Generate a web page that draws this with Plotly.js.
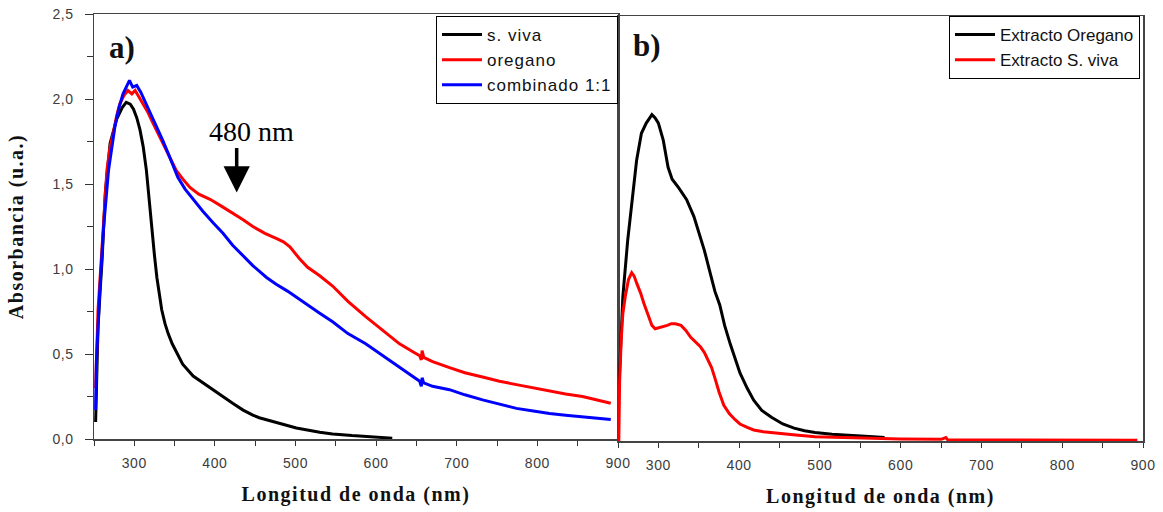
<!DOCTYPE html>
<html>
<head>
<meta charset="utf-8">
<script src="https://cdn.plot.ly/plotly-3.0.1.min.js"></script>
<style>
  html, body { margin: 0; padding: 0; background: #fff; }
  #chart { width: 1163px; height: 512px; }
  .xtitle, .x2title, .ytitle { letter-spacing: 1.5px; }
  .legendtext { letter-spacing: 1px; }
  .xtick text, .x2tick text, .ytick text { letter-spacing: 0.6px; }
</style>
</head>
<body>
<div id="chart"></div>
<script>
// ---- Panel a) data ----
const svivaX = [252,253,255,258,260,264,270,278,285,290,295,299,303,307,311,315,318,321,325,328,331,334,338,342,347,352,360,373,385,398,410,422,435,447,455,480,501,530,546,570,600,620];
const svivaY = [0.10,0.27,0.66,0.90,1.05,1.45,1.74,1.88,1.95,1.98,1.97,1.94,1.89,1.82,1.72,1.58,1.42,1.25,1.08,0.95,0.85,0.76,0.68,0.62,0.56,0.51,0.44,0.37,0.33,0.29,0.25,0.21,0.17,0.14,0.125,0.09,0.065,0.04,0.03,0.02,0.01,0.005];

const oreganoX = [252,253,255,258,260,263,266,270,274,278,282,287,292,297,301,306,311,317,323,330,338,345,352,360,369,380,394,408,422,435,447,462,476,485,493,500,505,515,530,546,565,587,608,629,645,654,656,657,659,670,691,710,732,753,774,795,815,835,856,875,891];
const oreganoY = [0.30,0.50,0.76,0.98,1.13,1.38,1.58,1.72,1.80,1.90,1.97,2.02,2.05,2.03,2.05,2.01,1.97,1.92,1.86,1.79,1.72,1.65,1.58,1.53,1.48,1.44,1.41,1.37,1.33,1.29,1.25,1.21,1.18,1.16,1.13,1.09,1.06,1.01,0.96,0.90,0.81,0.72,0.64,0.56,0.515,0.49,0.465,0.52,0.48,0.455,0.42,0.39,0.365,0.34,0.32,0.30,0.28,0.265,0.25,0.23,0.21];

const combinadoX = [252,253,257,262,268,272,276,281,286,290,294,298,303,308,313,320,328,335,342,348,354,363,373,385,398,410,422,435,447,464,476,490,505,518,530,546,565,587,608,629,645,654,656,657,659,670,691,710,732,753,774,795,815,835,856,875,891];
const combinadoY = [0.17,0.46,0.86,1.25,1.58,1.72,1.84,1.95,2.03,2.07,2.11,2.07,2.08,2.04,1.99,1.92,1.84,1.76,1.68,1.61,1.54,1.47,1.41,1.34,1.27,1.21,1.14,1.08,1.02,0.95,0.91,0.87,0.82,0.78,0.74,0.69,0.62,0.56,0.49,0.42,0.37,0.34,0.31,0.36,0.33,0.31,0.29,0.26,0.23,0.205,0.18,0.165,0.15,0.14,0.13,0.125,0.115];

// ---- Panel b) data ----
const extOreganoX = [251,253,256,262,269,273,279,285,292,296,300,306,312,317,325,335,344,352,357,364,370,376,382,389,395,401,410,418,428,440,454,468,481,494,515,539,566,580];
const extOreganoY = [0.30,0.55,0.85,1.18,1.48,1.65,1.81,1.87,1.92,1.90,1.87,1.77,1.61,1.54,1.49,1.42,1.32,1.20,1.12,0.99,0.88,0.80,0.68,0.57,0.48,0.40,0.31,0.24,0.18,0.14,0.10,0.076,0.06,0.05,0.04,0.035,0.025,0.02];

const extSvivaX = [251,252,254,256,259,263,267,270,273,278,282,287,292,296,300,305,311,316,321,328,334,340,346,352,357,362,366,370,375,381,388,395,401,410,418,430,447,470,494,539,600,650,656,658,700,800,893];
const extSvivaY = [0.00,0.35,0.60,0.75,0.85,0.95,0.99,0.97,0.93,0.87,0.81,0.74,0.68,0.66,0.665,0.67,0.68,0.69,0.69,0.68,0.65,0.61,0.58,0.555,0.52,0.47,0.43,0.37,0.29,0.21,0.16,0.125,0.10,0.08,0.065,0.055,0.045,0.035,0.025,0.018,0.012,0.01,0.02,0.008,0.008,0.005,0.004];

// ---- Axis settings ----
const xRange = [250, 900];
const yRange = [0, 2.5];

const W = 1163, H = 512;
const ax = { l: 94, r: 618, t: 14, b: 439 };
const bx = { l: 618, r: 1143, t: 16, b: 441 };

const tickFont = { family: 'Liberation Sans, Arial, sans-serif', size: 14, color: '#3c3c3c' };
const titleFont = { family: 'Liberation Serif, Times New Roman, serif', size: 20, color: '#111', weight: 'bold' };

function xaxisCfg(dom, anchor) {
  return {
    domain: dom, anchor: anchor, range: xRange,
    showline: true, mirror: true, linecolor: '#444', linewidth: 1.5,
    ticks: 'outside', ticklen: 5, tickwidth: 1, tickcolor: '#333',
    dtick: 100, tick0: 0, tickfont: tickFont, ticklabelstandoff: 6,
    minor: { dtick: 50, ticks: 'outside', ticklen: 5, tickcolor: '#333', showgrid: false },
    showgrid: false, zeroline: false, fixedrange: true,
    title: { text: 'Longitud de onda (nm)', font: titleFont, standoff: 16 }
  };
}

const traces = [
  { x: svivaX, y: svivaY, name: 's. viva', mode: 'lines', line: { color: '#000000', width: 3 }, xaxis: 'x', yaxis: 'y', legend: 'legend' },
  { x: oreganoX, y: oreganoY, name: 'oregano', mode: 'lines', line: { color: '#ff0000', width: 3 }, xaxis: 'x', yaxis: 'y', legend: 'legend' },
  { x: combinadoX, y: combinadoY, name: 'combinado 1:1', mode: 'lines', line: { color: '#0000ff', width: 3 }, xaxis: 'x', yaxis: 'y', legend: 'legend' },
  { x: extOreganoX, y: extOreganoY, name: 'Extracto Oregano', mode: 'lines', line: { color: '#000000', width: 3 }, xaxis: 'x2', yaxis: 'y2', legend: 'legend2' },
  { x: extSvivaX, y: extSvivaY, name: 'Extracto S. viva', mode: 'lines', line: { color: '#ff0000', width: 3 }, xaxis: 'x2', yaxis: 'y2', legend: 'legend2' }
];

const legendFont = { family: 'Liberation Sans, Arial, sans-serif', size: 17, color: '#111' };

const layout = {
  width: W, height: H,
  margin: { l: 0, r: 0, t: 0, b: 0 },
  paper_bgcolor: '#fff', plot_bgcolor: '#fff',
  separators: ',.',
  showlegend: true,
  xaxis: xaxisCfg([ax.l / W, ax.r / W], 'y'),
  yaxis: {
    domain: [1 - ax.b / H, 1 - ax.t / H], anchor: 'x', range: yRange,
    showline: true, mirror: true, linecolor: '#444', linewidth: 1.5,
    ticks: 'outside', ticklen: 8, tickwidth: 1, tickcolor: '#333',
    dtick: 0.5, tick0: 0, tickformat: '.1f', tickfont: tickFont, ticklabelstandoff: 8,
    minor: { dtick: 0.25, ticks: 'outside', ticklen: 6, tickcolor: '#333', showgrid: false },
    showgrid: false, zeroline: false, fixedrange: true,
    title: { text: 'Absorbancia (u.a.)', font: titleFont, standoff: 23 }
  },
  xaxis2: xaxisCfg([bx.l / W, bx.r / W], 'y2'),
  yaxis2: {
    domain: [1 - bx.b / H, 1 - bx.t / H], anchor: 'x2', range: yRange,
    showline: true, mirror: true, linecolor: '#444', linewidth: 1.5,
    ticks: '', showticklabels: false, showgrid: false, zeroline: false, fixedrange: true
  },
  legend: {
    x: 618 / W, xanchor: 'right', y: 1 - 16 / H, yanchor: 'top',
    bgcolor: '#fff', bordercolor: '#000', borderwidth: 1,
    font: legendFont, itemwidth: 40, tracegroupgap: 0
  },
  legend2: {
    x: 1140 / W, xanchor: 'right', y: 1 - 16 / H, yanchor: 'top',
    bgcolor: '#fff', bordercolor: '#000', borderwidth: 1,
    font: legendFont, itemwidth: 40, tracegroupgap: 0
  },
  annotations: [
    { xref: 'paper', yref: 'paper', x: 122 / W, y: 1 - 47 / H, xanchor: 'center', yanchor: 'middle',
      text: '<b>a)</b>', showarrow: false,
      font: { family: 'Liberation Serif, Times New Roman, serif', size: 31, color: '#111' } },
    { xref: 'paper', yref: 'paper', x: 647 / W, y: 1 - 45 / H, xanchor: 'center', yanchor: 'middle',
      text: '<b>b)</b>', showarrow: false,
      font: { family: 'Liberation Serif, Times New Roman, serif', size: 31, color: '#111' } },
    { xref: 'x', yref: 'y', x: 445, y: 1.81, text: '480 nm', showarrow: false,
      font: { family: 'Liberation Serif, Times New Roman, serif', size: 28, color: '#000' } },
    { xref: 'x', yref: 'y', x: 427, y: 1.45, ax: 0, ay: -46, text: '', showarrow: true,
      arrowhead: 2, arrowwidth: 3.5, arrowsize: 1.5, arrowcolor: '#000', standoff: 0 }
  ]
};

Plotly.newPlot('chart', traces, layout, { displayModeBar: false, staticPlot: true });
</script>
</body>
</html>
